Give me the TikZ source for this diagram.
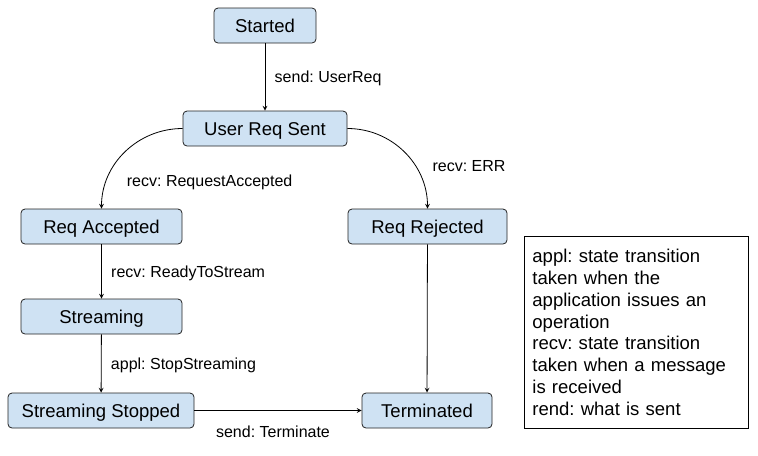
\documentclass[tikz,border=0pt]{standalone}
\usepackage{fontspec}
\setmainfont{Liberation Sans}
\usepackage{xcolor}
\usetikzlibrary{positioning,shapes}

\definecolor{statefill}{HTML}{CFE2F3}
\definecolor{stateline}{HTML}{222222}

\begin{document}
\frenchspacing
\begin{tikzpicture}[->,>=stealth,auto,semithick,on grid,
        state/.style={rectangle,rounded corners=3pt,draw=stateline,fill=statefill,
            minimum height=26.25pt,inner sep=2pt,text height=11pt,text depth=1pt,
            font=\fontsize{13.9}{16}\selectfont},
        legend/.style={draw,anchor=north west,align=left,text width=156pt,minimum height=144pt,
            inner xsep=6pt,inner ysep=8pt,font=\fontsize{13.9}{16.3}\selectfont}]
                \useasboundingbox (0,0) rectangle (568.5pt,-341.25pt);
                \node[state,minimum width=76.5pt] (start) at (198.75pt,-19.125pt) {Started};
                \node[state,minimum width=123pt] (sent) [below=77.25pt of start] {User Req Sent};
                \node[state,minimum width=120.75pt] (acc) at (76.125pt,-169.875pt) {Req Accepted};
                \node[state,minimum width=119.25pt] (rej) [right=244.5pt of acc] {Req Rejected};
                \node[state,minimum width=120.75pt] (stream) [below=67.5pt of acc] {Streaming};
                \node[state,minimum width=139.5pt] (stop) [below=70.5pt of stream,xshift=-0.375pt] {Streaming Stopped};
                \node[state,minimum width=97.5pt] (term) [right=244.5pt of stop] {Terminated};
                \node[legend] (key) at (393pt,-177pt) {appl: state transition\\taken when the\\application issues an\\operation\\recv: state transition\\taken when a message\\is received\\rend: what is sent};
                \tikzstyle{every node}=[font=\fontsize{12}{14}\selectfont,inner sep=7pt,text height=9.6pt,text depth=1pt]   % for edge labels
                \path
                    (start) edge node {send: UserReq} (sent)
                    (sent) edge [out=180,in=90] node[pos=0.6,below right,yshift=-2pt] {recv: RequestAccepted} (acc)
                           edge [out=0,in=90] node[pos=0.64,right,xshift=6pt] {recv: ERR} (rej)
                    (acc) edge node {recv: ReadyToStream} (stream)
                    (stream) edge node {appl: StopStreaming} (stop)
                    (stop) edge node[pos=0.47,below,yshift=-3pt] {send: Terminate} (term)
                    (rej) edge (term);
            \end{tikzpicture}
\end{document}
